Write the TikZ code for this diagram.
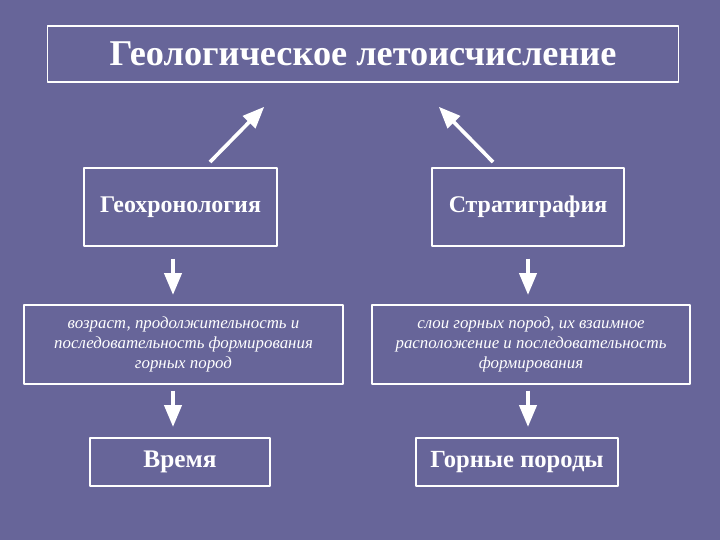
\documentclass[tikz,border=0pt]{standalone}
\usepackage{fontspec}
\setmainfont{Liberation Serif}
\usetikzlibrary{arrows}
\definecolor{slidebg}{RGB}{103,101,153}

\begin{document}
\begin{tikzpicture}[line cap=round,line join=round,>=triangle 45,x=0.025cm,y=-0.025cm,
	box/.style={draw=white,line width=0.8pt,text=white,inner sep=0pt,align=center},
	arr/.style={->,white,line width=2.6pt,line cap=butt}]
				\fill [slidebg] (0,0) rectangle (720,540);
				\node [box,minimum width=15.75cm,minimum height=1.4cm,font=\fontsize{25.8}{30}\selectfont\bfseries] (title) at (363,54) {Геологическое летоисчисление};
				\node [box,minimum width=4.825cm,minimum height=1.95cm,font=\fontsize{17}{20}\selectfont\bfseries] (geochron) at (180.5,207) {Геохронология};
				\node [box,minimum width=4.8cm,minimum height=1.95cm,font=\fontsize{17}{20}\selectfont\bfseries] (strat) at (528,207) {Стратиграфия};
				\node [box,minimum width=7.975cm,minimum height=1.975cm,font=\fontsize{12}{14}\selectfont\itshape] (agetext) at (183.5,344.5) {возраст, продолжительность и\\последовательность формирования\\горных пород};
				\node [box,minimum width=7.95cm,minimum height=1.975cm,font=\fontsize{12}{14}\selectfont\itshape] (layertext) at (531,344.5) {слои горных пород, их взаимное\\расположение и последовательность\\формирования};
				\node [box,minimum width=4.5cm,minimum height=1.2cm,font=\fontsize{18}{22}\selectfont\bfseries] (time) at (180,462) {Время};
				\node [box,minimum width=5.05cm,minimum height=1.2cm,font=\fontsize{17.5}{22}\selectfont\bfseries] (rocks) at (517,462) {Горные породы};
				% arrows
				\coordinate (g1) at (210,162);
				\coordinate (g2) at (264,107);
				\coordinate (s1) at (493,162);
				\coordinate (s2) at (439,107);
				\draw [arr] (g1) -- (g2);
				\draw [arr] (s1) -- (s2);
				\draw [arr] (geochron.south -| 173,0) ++(0,12) -- ++(0,36);
				\draw [arr] (strat.south -| 528,0) ++(0,12) -- ++(0,36);
				\draw [arr] (agetext.south -| 173,0) ++(0,6) -- ++(0,36);
				\draw [arr] (layertext.south -| 528,0) ++(0,6) -- ++(0,36);
\end{tikzpicture}
\end{document}
